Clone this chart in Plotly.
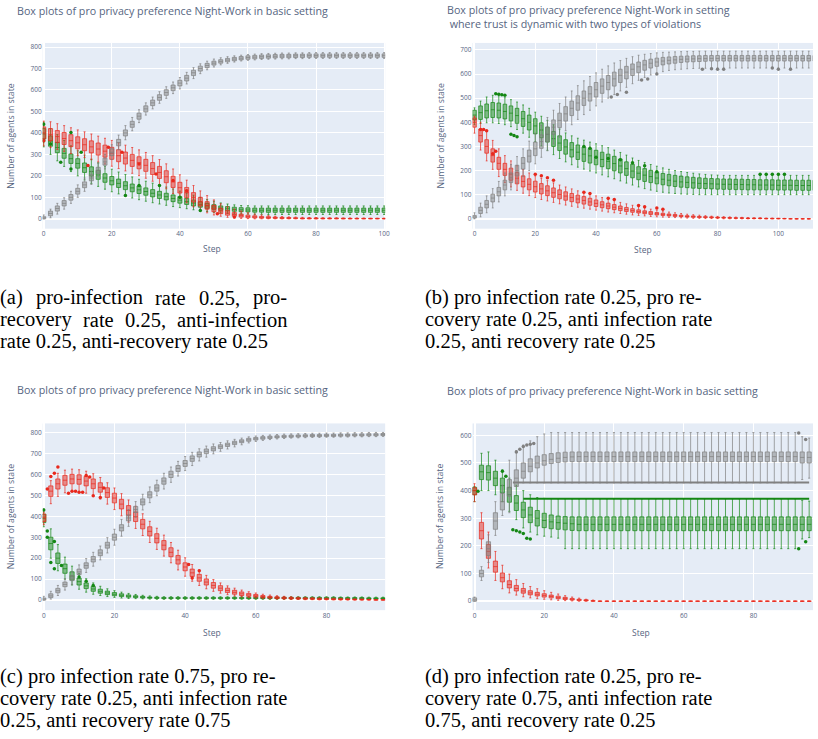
import plotly.graph_objects as go

W_PX, H_PX = 818, 739

# ---------------- data: panel (a) ----------------
A_steps = list(range(0, 101, 2))
A_gray_med = [5,25,48,72,100,128,158,190,225,265,
              310,355,400,440,478,512,540,565,588,610,
              632,655,680,700,714,725,733,739,744,748,
              751,753,755,756,757,758,758,759,759,760,
              760,760,760,760,760,760,760,760,760,760,
              760]
A_gray_q1 = [0,14,36,60,87,115,145,177,212,250,
             294,340,386,426,464,498,527,552,575,597,
             619,642,667,688,704,716,725,731,736,740,
             743,745,747,748,749,750,750,751,751,752,
             752,752,752,752,752,752,752,752,752,752,
             752]
A_gray_q3 = [10,36,60,85,113,142,172,205,240,282,
             326,370,414,454,492,526,553,578,601,623,
             645,668,692,711,724,734,741,747,752,756,
             759,761,763,764,765,766,766,767,767,768,
             768,768,768,768,768,768,768,768,768,768,
             768]
A_gray_lo = [0,5,22,45,72,100,128,160,195,232,
             276,322,368,410,448,483,512,538,561,583,
             605,628,653,676,694,707,717,724,730,735,
             738,740,742,743,744,745,745,746,746,747,
             747,747,747,747,747,747,747,747,747,747,
             747]
A_gray_hi = [18,45,72,98,128,158,190,222,258,300,
             345,390,434,472,508,540,567,592,615,637,
             658,682,704,722,734,744,750,755,759,762,
             765,767,769,770,771,772,772,773,773,774,
             774,774,774,774,774,774,774,774,774,774,
             774]
A_red_med = [400,392,383,374,364,354,345,335,325,315,
             305,294,283,272,261,249,234,216,196,172,
             145,122,100,80,62,47,36,27,20,15,
             11,9,7,6,5,4,3,3,2,2,
             2,2,2,2,1,1,1,1,1,1,
             1]
A_red_q1 = [372,364,355,346,336,326,317,307,297,287,
            277,266,255,244,233,221,206,188,168,146,
            120,98,78,60,45,33,24,17,12,8,
            5,4,3,2,2,1,1,1,0,0,
            0,0,0,0,0,0,0,0,0,0,
            0]
A_red_q3 = [428,420,411,402,392,382,373,363,353,343,
            333,322,311,300,289,277,262,244,224,198,
            170,146,122,100,80,62,49,38,29,22,
            17,14,11,10,8,7,6,5,4,4,
            4,3,3,3,3,2,2,2,2,2,
            2]
A_red_lo = [340,332,323,314,304,294,285,275,265,255,
            245,234,223,212,201,189,175,158,140,118,
            95,75,56,40,28,18,12,7,4,2,
            1,0,0,0,0,0,0,0,0,0,
            0,0,0,0,0,0,0,0,0,0,
            0]
A_red_hi = [455,452,443,434,424,414,405,395,385,375,
            365,354,343,332,321,309,294,276,256,232,
            205,180,155,130,108,88,70,56,45,36,
            28,22,18,15,12,10,9,8,7,6,
            6,5,5,5,4,4,4,4,3,3,
            3]
A_green_med = [395,362,332,305,280,258,238,220,204,190,
               177,165,154,144,135,127,119,111,103,95,
               87,80,73,66,60,55,50,47,44,42,
               41,40,40,40,40,40,40,40,40,40,
               40,40,40,40,40,40,40,40,40,40,
               40]
A_green_q1 = [372,338,308,282,258,236,216,199,184,170,
              158,146,136,126,118,110,102,95,88,80,
              73,67,60,54,49,44,40,37,35,33,
              32,31,31,30,30,30,30,30,30,30,
              30,30,30,30,30,30,30,30,30,30,
              30]
A_green_q3 = [420,386,356,328,302,280,260,242,226,210,
              197,185,173,162,153,144,136,128,119,111,
              103,95,87,79,72,66,60,57,54,52,
              51,50,50,50,50,50,50,50,50,50,
              50,50,50,50,50,50,50,50,50,50,
              50]
A_green_lo = [335,300,270,244,220,200,181,165,151,138,
              126,116,106,97,89,82,75,69,63,57,
              52,47,42,38,34,30,27,25,23,22,
              22,21,21,20,20,20,20,20,20,20,
              20,20,20,20,20,20,20,20,20,20,
              20]
A_green_hi = [450,420,392,365,340,317,297,278,261,245,
              231,218,206,195,184,175,166,157,148,139,
              129,120,110,100,90,82,74,69,65,62,
              61,60,60,60,60,60,60,60,60,60,
              60,60,60,60,60,60,60,60,60,60,
              60]
A_out_green_x = [0, 0, 2, 5, 8, 8, 11, 24, 28, 34, 40, 46]
A_out_green_y = [440, 364, 348, 263, 232, 402, 310, 108, 155, 155, 100, 39]
A_out_red_x = [0, 13, 19, 23, 28, 33, 38, 42, 51, 56]
A_out_red_y = [364, 248, 333, 310, 255, 209, 178, 131, 23, 8]

# ---------------- data: panel (b) ----------------
B_steps = list(range(0, 113, 2))
B_gray_med = [8,35,60,86,112,140,170,200,230,260,
              290,320,350,380,408,435,458,480,500,518,
              535,550,565,580,595,608,620,630,638,645,
              650,654,657,659,661,662,663,664,664,665,
              665,665,665,665,665,665,665,665,665,665,
              665,665,665,665,665,665,665]
B_gray_q1 = [3,22,45,70,95,120,150,178,206,235,
             262,292,320,350,378,405,428,450,470,488,
             505,520,535,550,565,580,594,606,616,625,
             632,638,642,645,648,650,651,652,653,654,
             654,654,654,654,654,654,654,654,654,654,
             654,654,654,654,654,654,654]
B_gray_q3 = [14,48,76,102,130,160,190,222,254,285,
             318,348,380,410,438,465,488,510,530,548,
             565,580,594,608,620,632,642,650,657,662,
             666,669,671,673,674,675,676,676,677,677,
             677,677,677,677,677,677,677,677,677,677,
             677,677,677,677,677,677,677]
B_gray_lo = [0,8,25,45,70,95,120,148,175,200,
             228,255,282,310,338,365,390,412,432,450,
             468,484,500,515,530,545,560,574,586,596,
             604,610,615,618,620,622,623,624,624,625,
             625,625,625,625,625,625,625,625,625,625,
             625,625,625,625,625,625,625]
B_gray_hi = [25,65,95,125,155,190,225,258,290,322,
             355,388,420,450,478,505,530,552,572,590,
             605,620,634,646,656,665,672,678,682,685,
             688,690,691,692,693,694,694,695,695,695,
             695,695,695,695,695,695,695,695,695,695,
             695,695,695,695,695,695,695]
B_red_med = [400,345,300,262,230,205,185,168,155,143,
             133,124,116,108,101,94,88,82,76,70,
             64,58,53,48,43,38,34,30,27,24,
             21,18,16,14,12,10,9,8,7,6,
             5,4,4,3,3,2,2,2,1,1,
             1,1,0,0,0,0,0]
B_red_q1 = [380,318,272,235,205,180,160,145,132,120,
            111,103,96,89,83,77,71,66,61,56,
            51,46,42,38,34,30,27,24,21,18,
            16,14,12,10,9,7,6,5,5,4,
            3,3,2,2,2,1,1,1,0,0,
            0,0,0,0,0,0,0]
B_red_q3 = [418,372,328,290,255,230,210,192,178,166,
            156,146,137,128,120,112,105,98,92,85,
            78,71,65,59,53,47,42,37,33,30,
            26,23,20,18,15,13,12,10,9,8,
            7,6,5,4,4,3,3,3,2,2,
            2,1,0,0,0,0,0]
B_red_lo = [355,285,240,205,175,150,132,118,106,96,
            88,80,74,68,62,57,52,48,44,40,
            36,32,28,25,22,19,16,14,12,10,
            8,7,6,5,4,3,2,2,1,1,
            1,0,0,0,0,0,0,0,0,0,
            0,0,0,0,0,0,0]
B_red_hi = [425,400,365,325,290,262,240,220,204,190,
            178,168,158,149,140,132,124,116,109,102,
            95,88,81,75,68,62,56,50,45,40,
            36,32,28,25,22,19,17,15,13,11,
            10,9,8,7,6,5,4,4,3,3,
            2,2,1,0,0,0,0]
B_green_med = [430,440,448,452,450,445,438,428,415,400,
               385,368,350,332,314,298,286,276,268,261,
               254,246,238,229,219,208,198,189,181,175,
               169,164,160,156,153,151,149,147,146,145,
               144,143,143,142,142,141,141,140,140,140,
               139,139,139,138,138,138,138]
B_green_q1 = [410,412,418,420,418,414,406,396,383,368,
              352,336,318,300,283,268,256,246,238,231,
              224,216,208,199,190,180,170,162,155,150,
              145,141,137,134,131,129,127,126,125,124,
              123,122,122,121,121,120,120,120,120,120,
              119,119,119,118,118,118,118]
B_green_q3 = [450,468,476,482,480,475,468,458,445,430,
              415,398,380,362,344,328,316,306,298,291,
              284,276,268,259,248,236,226,216,208,201,
              194,188,184,180,177,174,172,170,168,167,
              166,165,165,164,164,163,163,162,162,162,
              161,161,161,160,160,160,160]
B_green_lo = [390,395,398,398,395,390,382,370,355,338,
              320,302,284,266,250,236,224,214,206,198,
              190,182,174,166,157,148,140,132,125,119,
              114,110,107,105,103,102,101,100,100,100,
              100,100,100,100,100,100,100,100,100,100,
              100,100,100,100,100,100,100]
B_green_hi = [460,488,505,512,510,502,494,484,472,458,
              442,425,408,390,372,356,344,334,326,318,
              311,303,295,285,275,264,252,242,233,225,
              218,211,205,200,196,192,189,186,184,182,
              181,180,180,180,180,180,180,180,180,180,
              180,180,180,180,180,180,180]
B_out_green_x = [7, 8, 9, 10, 12, 13, 14, 36, 38, 40, 44, 48, 52, 56, 60, 94, 96, 98, 100, 102]
B_out_green_y = [518, 516, 514, 512, 350, 345, 340, 300, 292, 255, 250, 245, 232, 220, 195, 185, 185, 185, 185, 185]
B_out_red_x = [2, 3, 4, 6, 7, 20, 22, 24, 26, 36, 38, 44, 46, 54, 56, 60, 62]
B_out_red_y = [370, 370, 365, 270, 280, 185, 178, 170, 160, 110, 105, 85, 80, 55, 50, 45, 40]
B_out_gray_x = [45, 47, 50, 55, 57, 60, 75, 78, 80, 82, 98, 100, 104]
B_out_gray_y = [505, 515, 525, 575, 580, 600, 620, 622, 620, 620, 625, 620, 620]

# ---------------- data: panel (c) ----------------
C_steps = list(range(0, 97, 2))
C_red_med = [395,520,555,572,578,576,568,555,538,513,
             487,458,428,398,362,328,295,262,228,192,
             158,130,106,86,70,57,46,37,30,25,
             21,17,14,12,10,9,8,7,6,5,
             5,4,4,3,3,2,2,1,1]
C_red_q1 = [375,495,530,548,555,553,545,532,515,490,
            464,435,405,375,340,306,273,240,207,172,
            140,113,90,72,57,45,36,28,22,18,
            15,12,10,8,7,6,5,4,4,3,
            3,2,2,2,1,1,1,0,0]
C_red_q3 = [410,545,578,595,600,598,590,578,560,536,
            510,481,451,421,385,350,317,284,250,213,
            178,148,123,101,84,69,57,47,39,32,
            27,22,18,16,14,12,11,10,9,8,
            7,6,6,5,4,4,3,2,2]
C_red_lo = [360,460,495,512,520,518,510,498,482,458,
            432,402,372,342,308,275,242,210,178,144,
            114,90,70,54,42,33,26,20,15,12,
            10,8,6,5,4,3,3,2,2,1,
            1,1,0,0,0,0,0,0,0]
C_red_hi = [420,570,605,620,625,622,615,603,585,560,
            535,508,478,448,412,376,343,310,275,238,
            202,170,143,118,98,82,68,57,48,40,
            34,28,24,21,18,16,14,13,12,11,
            10,9,8,7,6,5,4,3,3]
C_green_med = [390,270,200,150,115,88,68,53,42,34,
               28,23,19,16,14,12,11,10,10,10,
               10,10,10,10,10,10,10,10,10,10,
               10,10,10,10,10,10,10,10,10,10,
               10,10,9,9,9,9,8,8,8]
C_green_q1 = [370,240,175,128,96,72,55,42,33,26,
              21,17,14,12,10,9,8,7,7,7,
              7,7,7,7,7,7,7,7,7,7,
              7,7,7,7,7,7,7,7,7,7,
              7,7,6,6,6,6,5,5,5]
C_green_q3 = [410,300,225,172,135,105,82,65,52,43,
              36,30,25,21,18,15,14,13,13,13,
              13,13,13,13,13,13,13,13,13,13,
              13,13,13,13,13,13,13,13,13,13,
              13,13,12,12,12,12,11,11,11]
C_green_lo = [350,200,140,100,72,52,38,28,22,17,
              13,10,8,7,6,5,4,4,4,4,
              4,4,4,4,4,4,4,4,4,4,
              4,4,4,4,4,4,4,4,4,4,
              4,4,3,3,3,3,3,3,3]
C_green_hi = [435,340,265,205,162,128,102,82,66,54,
              45,38,32,27,23,20,18,16,16,16,
              16,16,16,16,16,16,16,16,16,16,
              16,16,16,16,16,16,16,16,16,16,
              16,16,15,15,15,15,14,14,14]
C_gray_med = [5,20,45,75,105,135,165,195,225,262,
              300,345,392,432,468,502,535,568,600,628,
              652,675,695,710,722,732,741,750,758,765,
              770,774,777,779,781,782,783,784,785,785,
              786,786,787,787,788,788,789,789,790]
C_gray_q1 = [0,12,35,64,93,122,152,182,212,248,
             286,330,378,418,454,488,520,553,585,614,
             638,662,683,699,712,723,733,742,751,758,
             764,768,771,774,776,777,778,779,780,780,
             781,781,782,782,783,783,784,784,785]
C_gray_q3 = [10,30,56,86,117,148,178,208,240,276,
             315,360,406,447,483,517,550,583,615,642,
             666,688,707,721,732,741,749,758,765,772,
             776,780,782,784,786,787,788,789,790,790,
             791,791,792,792,793,793,794,794,795]
C_gray_lo = [0,5,22,48,75,103,132,162,192,225,
             262,305,352,395,430,465,498,530,562,592,
             618,642,664,682,698,710,721,731,741,750,
             757,762,766,769,771,773,774,775,776,776,
             777,777,778,778,779,779,780,780,781]
C_gray_hi = [18,42,70,102,135,168,198,228,258,298,
             338,385,432,470,505,540,572,605,635,662,
             685,705,722,735,745,752,760,767,773,779,
             783,786,788,790,792,793,794,795,796,796,
             797,797,798,798,799,799,800,800,800]
C_out_red_x = [1, 2, 3, 4, 7, 8, 9, 10, 11, 12, 13, 14, 16, 17, 41, 42, 44]
C_out_red_y = [530, 590, 605, 635, 510, 520, 520, 515, 515, 595, 588, 498, 490, 535, 170, 105, 140]
C_out_green_x = [0, 1, 1, 2, 3, 3, 5, 10, 12, 14]
C_out_green_y = [430, 330, 300, 180, 280, 150, 165, 110, 90, 70]

# ---------------- data: panel (d) ----------------
D_steps = list(range(0, 97, 2))
D_red_med = [400,255,180,125,85,60,46,37,30,25,
             21,17,13,10,7,5,3,1,0,0,
             0,0,0,0,0,0,0,0,0,0,
             0,0,0,0,0,0,0,0,0,0,
             0,0,0,0,0,0,0,0,0]
D_red_q1 = [385,225,155,105,70,48,37,29,23,19,
            15,12,9,6,4,2,1,0,0,0,
            0,0,0,0,0,0,0,0,0,0,
            0,0,0,0,0,0,0,0,0,0,
            0,0,0,0,0,0,0,0,0]
D_red_q3 = [410,285,205,145,102,74,57,46,38,32,
            27,22,18,14,10,7,5,2,0,0,
            0,0,0,0,0,0,0,0,0,0,
            0,0,0,0,0,0,0,0,0,0,
            0,0,0,0,0,0,0,0,0]
D_red_lo = [360,190,120,75,45,30,22,16,12,9,
            7,5,3,2,1,0,0,0,0,0,
            0,0,0,0,0,0,0,0,0,0,
            0,0,0,0,0,0,0,0,0,0,
            0,0,0,0,0,0,0,0,0]
D_red_hi = [425,320,250,180,130,98,78,64,53,45,
            38,32,26,20,15,11,7,4,0,0,
            0,0,0,0,0,0,0,0,0,0,
            0,0,0,0,0,0,0,0,0,0,
            0,0,0,0,0,0,0,0,0]
D_green_med = [400,468,465,445,418,385,355,330,312,300,
               292,287,284,282,280,278,278,278,278,278,
               278,278,278,278,278,278,278,278,278,278,
               278,278,278,278,278,278,278,278,278,278,
               278,278,278,278,278,278,278,278,278]
D_green_q1 = [385,440,438,418,392,358,328,302,284,272,
              266,262,260,258,256,255,255,255,255,255,
              255,255,255,255,255,255,255,255,255,255,
              255,255,255,255,255,255,255,255,255,255,
              255,255,255,255,255,255,255,255,255]
D_green_q3 = [412,492,490,470,445,412,382,358,340,328,
              318,312,308,306,305,305,305,305,305,305,
              305,305,305,305,305,305,305,305,305,305,
              305,305,305,305,305,305,305,305,305,305,
              305,305,305,305,305,305,305,305,305]
D_green_lo = [360,400,400,385,360,325,295,265,250,240,
              235,232,228,190,190,190,190,190,190,190,
              190,190,190,190,190,190,190,190,190,190,
              190,190,190,190,190,190,190,190,190,190,
              190,190,190,190,190,190,190,225,230]
D_green_hi = [415,535,540,510,475,445,420,400,385,375,
              372,371,370,370,370,370,370,370,370,370,
              370,370,370,370,370,370,370,370,370,370,
              370,370,370,370,370,370,370,370,370,370,
              370,370,370,370,370,370,370,365,362]
D_gray_med = [5,100,190,290,360,410,445,470,488,500,
              508,513,517,520,522,523,523,523,523,523,
              523,523,523,523,523,523,523,523,523,523,
              523,523,523,523,523,523,523,523,523,523,
              523,523,523,523,523,523,523,520,520]
D_gray_q1 = [0,88,165,260,330,380,415,445,468,482,
             492,498,502,504,505,505,505,505,505,505,
             505,505,505,505,505,505,505,505,505,505,
             505,505,505,505,505,505,505,505,505,505,
             505,505,505,505,505,505,505,500,500]
D_gray_q3 = [12,112,215,320,390,440,475,500,515,525,
             530,534,537,539,540,540,540,540,540,540,
             540,540,540,540,540,540,540,540,540,540,
             540,540,540,540,540,540,540,540,540,540,
             540,540,540,540,540,540,540,540,540]
D_gray_lo = [0,75,140,238,310,320,425,428,428,428,
             428,428,428,428,428,428,428,428,428,428,
             428,428,428,428,428,428,428,428,428,428,
             428,428,428,428,428,428,428,428,428,428,
             428,428,428,428,428,428,428,440,445]
D_gray_hi = [15,125,240,360,420,510,545,565,580,595,
             605,610,610,610,610,610,610,610,610,610,
             610,610,610,610,610,610,610,610,610,610,
             610,610,610,610,610,610,610,610,610,610,
             610,610,610,610,610,610,610,595,590]
# dense rows of identical outcomes, drawn as runs
D_row_green_x = [14, 96]
D_row_green_y = [371, 371]
D_row_gray_x = [11, 96]
D_row_gray_y = [429, 429]
D_out_green_x = [1, 8, 9, 11, 12, 13, 14, 15, 16, 93, 95]
D_out_green_y = [398, 470, 452, 258, 255, 250, 245, 228, 225, 190, 215]
D_out_gray_x = [12, 13, 14, 15, 16, 17, 93, 95]
D_out_gray_y = [540, 550, 560, 565, 568, 570, 608, 585]

# ---------------- text ----------------
TITLE_BASIC = "Box plots of pro privacy preference Night-Work in basic setting"
TITLE_B1 = "Box plots of pro privacy preference Night-Work in setting"
TITLE_B2 = " where trust is dynamic with two types of violations"
Y_TITLE = "Number of agents in state"
X_TITLE = "Step"
CAP_A = ["(a) pro-infection rate 0.25, pro-", "recovery rate 0.25, anti-infection", "rate 0.25, anti-recovery rate 0.25"]
CAP_B = ["(b) pro infection rate 0.25, pro re-", "covery rate 0.25, anti infection rate", "0.25, anti recovery rate 0.25"]
CAP_C = ["(c) pro infection rate 0.75, pro re-", "covery rate 0.25, anti infection rate", "0.25, anti recovery rate 0.75"]
CAP_D = ["(d) pro infection rate 0.25, pro re-", "covery rate 0.75, anti infection rate", "0.75, anti recovery rate 0.25"]

RED = "rgb(232,40,28)"
GREEN = "rgb(20,135,20)"
GRAY = "rgb(128,128,128)"
TXT = "#56657f"
SERIF = "Liberation Serif, Times New Roman, DejaVu Serif, serif"
CAP_SIZE = 20.5

panels = [
    dict(steps=A_steps,
         series=[(A_green_lo, A_green_q1, A_green_med, A_green_q3, A_green_hi, GREEN, "Ag"),
                 (A_red_lo, A_red_q1, A_red_med, A_red_q3, A_red_hi, RED, "Ar"),
                 (A_gray_lo, A_gray_q1, A_gray_med, A_gray_q3, A_gray_hi, GRAY, "Ay")],
         dots=[(A_out_green_x, A_out_green_y, GREEN), (A_out_red_x, A_out_red_y, RED)],
         rows=[],
         xpx=(42, 387), ypx=(42, 228), xr=[-0.3, 100.3], yr=[-46, 819],
         yt=[0, 100, 200, 300, 400, 500, 600, 700, 800], xt=[0, 20, 40, 60, 80, 100]),
    dict(steps=B_steps,
         series=[(B_green_lo, B_green_q1, B_green_med, B_green_q3, B_green_hi, GREEN, "Bg"),
                 (B_red_lo, B_red_q1, B_red_med, B_red_q3, B_red_hi, RED, "Br"),
                 (B_gray_lo, B_gray_q1, B_gray_med, B_gray_q3, B_gray_hi, GRAY, "By")],
         dots=[(B_out_green_x, B_out_green_y, GREEN), (B_out_red_x, B_out_red_y, RED),
               (B_out_gray_x, B_out_gray_y, GRAY)],
         rows=[],
         xpx=(475, 818), ypx=(42, 228), xr=[-0.65, 111.4], yr=[-41, 729],
         yt=[0, 100, 200, 300, 400, 500, 600, 700], xt=[0, 20, 40, 60, 80, 100]),
    dict(steps=C_steps,
         series=[(C_green_lo, C_green_q1, C_green_med, C_green_q3, C_green_hi, GREEN, "Cg"),
                 (C_red_lo, C_red_q1, C_red_med, C_red_q3, C_red_hi, RED, "Cr"),
                 (C_gray_lo, C_gray_q1, C_gray_med, C_gray_q3, C_gray_hi, GRAY, "Cy")],
         dots=[(C_out_green_x, C_out_green_y, GREEN), (C_out_red_x, C_out_red_y, RED)],
         rows=[],
         xpx=(42, 387), ypx=(423, 610), xr=[-0.3, 96.6], yr=[-48, 843],
         yt=[0, 100, 200, 300, 400, 500, 600, 700, 800], xt=[0, 20, 40, 60, 80]),
    dict(steps=D_steps,
         series=[(D_green_lo, D_green_q1, D_green_med, D_green_q3, D_green_hi, GREEN, "Dg"),
                 (D_red_lo, D_red_q1, D_red_med, D_red_q3, D_red_hi, RED, "Dr"),
                 (D_gray_lo, D_gray_q1, D_gray_med, D_gray_q3, D_gray_hi, GRAY, "Dy")],
         dots=[(D_out_green_x, D_out_green_y, GREEN), (D_out_gray_x, D_out_gray_y, GRAY)],
         rows=[(D_row_green_x, D_row_green_y, GREEN), (D_row_gray_x, D_row_gray_y, GRAY)],
         xpx=(475, 818), ypx=(423, 610), xr=[-0.57, 97.1], yr=[-32.5, 643],
         yt=[0, 100, 200, 300, 400, 500, 600], xt=[0, 20, 40, 60, 80]),
]

fig = go.Figure()
layout = dict(width=W_PX, height=H_PX, margin=dict(l=0, r=0, t=0, b=0),
              paper_bgcolor="white", plot_bgcolor="#E5ECF6", showlegend=False,
              boxmode="overlay", font=dict(family="Open Sans", color=TXT))

for i, p in enumerate(panels, start=1):
    xa = "x" if i == 1 else f"x{i}"
    ya = "y" if i == 1 else f"y{i}"
    n = len(p["steps"])
    for lo, q1, med, q3, hi, col, name in p["series"]:
        for arr in (lo, q1, med, q3, hi):
            assert len(arr) == n, (name, len(arr), n)
        fig.add_trace(go.Box(x=p["steps"], lowerfence=lo, q1=q1, median=med, q3=q3,
                             upperfence=hi, marker_color=col, line=dict(width=0.7, color=col),
                             width=1.2, boxpoints=False, xaxis=xa, yaxis=ya,
                             hoverinfo="skip", showlegend=False))
    for xs, ys, col in p["rows"]:
        fig.add_trace(go.Scatter(x=xs, y=ys, mode="lines", line=dict(color=col, width=2),
                                 xaxis=xa, yaxis=ya, hoverinfo="skip", showlegend=False))
    for xs, ys, col in p["dots"]:
        fig.add_trace(go.Scatter(x=xs, y=ys, mode="markers", marker=dict(color=col, size=3.5),
                                 xaxis=xa, yaxis=ya, hoverinfo="skip", showlegend=False))
    x0, x1 = p["xpx"]
    y0, y1 = p["ypx"]
    axis_common = dict(showgrid=True, gridcolor="white", gridwidth=1, zeroline=True,
                       zerolinecolor="white", zerolinewidth=2, ticks="", showline=False,
                       tickfont=dict(size=6.5, color=TXT, family="Open Sans"))
    layout["xaxis" if i == 1 else f"xaxis{i}"] = dict(
        domain=[x0 / W_PX, x1 / W_PX], range=p["xr"], tickvals=p["xt"],
        anchor=ya, **axis_common)
    layout["yaxis" if i == 1 else f"yaxis{i}"] = dict(
        domain=[1 - y1 / H_PX, 1 - y0 / H_PX], range=p["yr"], tickvals=p["yt"],
        anchor=xa, **axis_common)


def ann(text, x, y, size, xanchor="left", angle=0, family="Open Sans", color=TXT):
    return dict(text=text, x=x / W_PX, y=1 - y / H_PX, xref="paper", yref="paper",
                xanchor=xanchor, yanchor="middle", showarrow=False, textangle=angle,
                font=dict(size=size, family=family, color=color))


anns = [
    ann(TITLE_BASIC, 14, 10, 10.7),
    ann(TITLE_B1, 447, 9, 10.7),
    ann(TITLE_B2, 447, 23, 10.7),
    ann(TITLE_BASIC, 14, 390, 10.7),
    ann(TITLE_BASIC, 447, 391, 10.7),
    ann(Y_TITLE, 10, 135, 8.7, "center", -90),
    ann(Y_TITLE, 443, 135, 8.7, "center", -90),
    ann(Y_TITLE, 10, 516, 8.7, "center", -90),
    ann(Y_TITLE, 443, 516, 8.7, "center", -90),
    ann(X_TITLE, 213, 248, 8.5, "center"),
    ann(X_TITLE, 647, 249, 8.5, "center"),
    ann(X_TITLE, 213, 632, 8.5, "center"),
    ann(X_TITLE, 645, 632, 8.5, "center"),
]


def cap(text, x, y, anchor="left"):
    return ann(text, x, y, CAP_SIZE, anchor, 0, SERIF, "black")


# Times-compatible advance widths (per 1000 em) used to justify caption (a)
ADV = {"a": 444, "b": 500, "c": 444, "d": 500, "e": 444, "f": 333, "g": 500, "h": 500,
       "i": 278, "j": 278, "k": 500, "l": 278, "m": 778, "n": 500, "o": 500, "p": 500,
       "q": 500, "r": 333, "s": 389, "t": 278, "u": 500, "v": 500, "w": 722, "x": 500,
       "y": 500, "z": 444, ".": 250, ",": 250, "-": 333, "(": 333, ")": 333, " ": 250}


def text_w(s):
    return sum(ADV.get(ch, 500) for ch in s) * CAP_SIZE / 1000.0


PAD = 3  # annotation inner padding in px


def justified(line, left, right, y):
    words = line.split(" ")
    total = sum(text_w(w) for w in words)
    gap = (right - left - total) / (len(words) - 1)
    out = []
    pos = left
    for w in words:
        out.append(cap(w, pos - PAD, y))
        pos += text_w(w) + gap
    return out


anns += justified(CAP_A[0], 0, 289, 297)
anns += justified(CAP_A[1], 0, 289, 319)
anns.append(cap(CAP_A[2], 0 - PAD, 341))

for lines, x, ys in ((CAP_B, 428, (297, 319, 341)),
                     (CAP_C, 0, (676, 698, 720)), (CAP_D, 428, (676, 698, 720))):
    for t, yy in zip(lines, ys):
        anns.append(cap(t, x - PAD, yy))

layout["annotations"] = anns
fig.update_layout(**layout)
fig.write_html("out.html", config={"displayModeBar": False},
               post_script="document.body.style.margin='0';document.body.style.padding='0';")
